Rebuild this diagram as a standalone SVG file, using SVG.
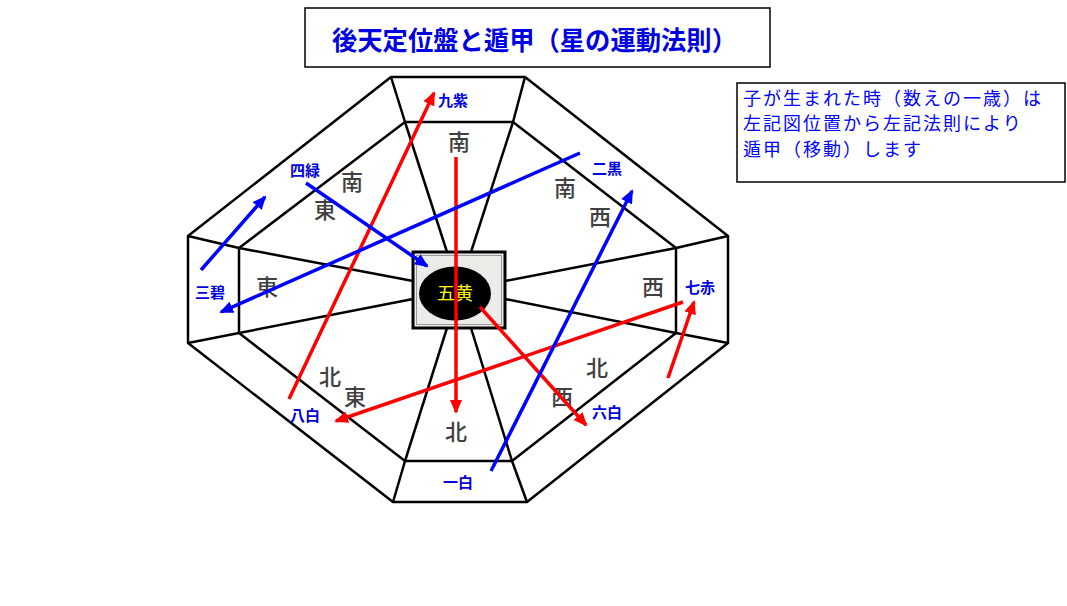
<svg xmlns="http://www.w3.org/2000/svg" width="1067" height="606" viewBox="0 0 1067 606">
<style>
.edge{stroke:#000;stroke-width:2.5;fill:none;stroke-linejoin:round}
.dir{font-family:"Noto Sans CJK JP","Noto Sans CJK SC",sans-serif;font-size:22px;font-weight:500;fill:#404040;text-anchor:middle}
.star{font-family:"Noto Sans CJK JP","Noto Sans CJK SC",sans-serif;font-size:15px;font-weight:bold;fill:#0000e0}
.red{stroke:#ff0000;stroke-width:3.5;fill:none;marker-end:url(#ahR)}
.blue{stroke:#0000ff;stroke-width:3.5;fill:none;marker-end:url(#ahB)}
.note{font-family:"Noto Sans CJK JP","Noto Sans CJK SC",sans-serif;font-size:18px;fill:#0000ff;letter-spacing:2px}
</style>
<defs>
<marker id="ahR" viewBox="0 0 14 12" refX="12" refY="6" markerWidth="14" markerHeight="12" orient="auto" markerUnits="userSpaceOnUse"><path d="M0,0 L14,6 L0,12 z" fill="#ff0000"/></marker>
<marker id="ahB" viewBox="0 0 14 12" refX="12" refY="6" markerWidth="14" markerHeight="12" orient="auto" markerUnits="userSpaceOnUse"><path d="M0,0 L14,6 L0,12 z" fill="#0000ff"/></marker>
</defs>
<rect width="1067" height="606" fill="#fff"/>
<g id="title">
<rect x="305" y="8" width="465" height="59" fill="#fff" stroke="#000" stroke-width="1.5"/>
<text x="534.5" y="50" font-family="Noto Sans CJK JP,Noto Sans CJK SC,sans-serif" font-size="26" font-weight="bold" fill="#0000e0" text-anchor="middle" textLength="405" lengthAdjust="spacingAndGlyphs">後天定位盤と遁甲（星の運動法則）</text>
</g>
<g id="note">
<rect x="737" y="83" width="328" height="99" fill="#fff" stroke="#000" stroke-width="1.5"/>
<text class="note" x="743" y="104.5">子が生まれた時（数えの一歳）は</text>
<text class="note" x="743" y="130">左記図位置から左記法則により</text>
<text class="note" x="743" y="155.5">遁甲（移動）します</text>
</g>
<g id="board">
<polygon points="391,77 525,77 728,236 728,343 527,502 393,502 188,343 188,236" fill="#fff" class="edge"/>
<polygon points="405,122 513,122 676,248 676,333 512,461 405,461 239,333 239,248" fill="#ebebe8" class="edge"/>
<g class="edge">
<line x1="405" y1="122" x2="391" y2="77"/>
<line x1="513" y1="122" x2="525" y2="77"/>
<line x1="676" y1="248" x2="728" y2="236"/>
<line x1="676" y1="333" x2="728" y2="343"/>
<line x1="512" y1="461" x2="527" y2="502"/>
<line x1="405" y1="461" x2="393" y2="502"/>
<line x1="239" y1="333" x2="188" y2="343"/>
<line x1="239" y1="248" x2="188" y2="236"/>
<line x1="405" y1="122" x2="447" y2="252"/>
<line x1="513" y1="122" x2="471" y2="252"/>
<line x1="676" y1="248" x2="505" y2="281"/>
<line x1="676" y1="333" x2="505" y2="299"/>
<line x1="512" y1="461" x2="471" y2="328"/>
<line x1="405" y1="461" x2="447" y2="328"/>
<line x1="239" y1="333" x2="413" y2="299"/>
<line x1="239" y1="248" x2="413" y2="281"/>
</g>
<rect x="413" y="252" width="92" height="76" fill="#ebebe8" stroke="#000" stroke-width="3"/>
<rect x="416.5" y="255.5" width="85" height="69" fill="none" stroke="#999" stroke-width="1"/>
<text class="dir" x="459" y="150">南</text>
<text class="dir" x="352" y="190">南</text>
<text class="dir" x="325" y="218">東</text>
<text class="dir" x="267" y="295">東</text>
<text class="dir" x="565" y="196">南</text>
<text class="dir" x="600" y="225">西</text>
<text class="dir" x="653" y="295">西</text>
<text class="dir" x="597" y="376">北</text>
<text class="dir" x="562" y="405">西</text>
<text class="dir" x="456" y="440">北</text>
<text class="dir" x="330" y="385">北</text>
<text class="dir" x="355" y="405">東</text>
</g>
<g id="n5">
<ellipse cx="455" cy="293.5" rx="36" ry="27" fill="#000"/>
<text x="455" y="300" font-family="Noto Sans CJK JP,Noto Sans CJK SC,sans-serif" font-size="18" fill="#ffff00" text-anchor="middle">五黄</text>
</g>
<g id="n9"><text class="star" x="438" y="105.5">九紫</text></g>
<g id="n4"><text class="star" x="290" y="175.5">四緑</text></g>
<g id="n2"><text class="star" x="592" y="173.5">二黒</text></g>
<g id="n3"><text class="star" x="195" y="297.5">三碧</text></g>
<g id="n7"><text class="star" x="685" y="292.5">七赤</text></g>
<g id="n8"><text class="star" x="290" y="420.5">八白</text></g>
<g id="n6"><text class="star" x="592" y="417.5">六白</text></g>
<g id="n1"><text class="star" x="443" y="487.5">一白</text></g>
<g id="connectors">
<line class="red" x1="480" y1="307" x2="586" y2="425"/>
<line class="red" x1="456" y1="157" x2="456" y2="412"/>
<line class="red" x1="289" y1="399" x2="434" y2="93"/>
<line class="red" x1="683" y1="302" x2="336" y2="421"/>
<line class="red" x1="668" y1="378" x2="694" y2="302"/>
<line class="blue" x1="306" y1="183" x2="427" y2="266"/>
<line class="blue" x1="580" y1="153" x2="221" y2="312"/>
<line class="blue" x1="201" y1="270" x2="265" y2="197"/>
<line class="blue" x1="491" y1="471" x2="632" y2="191"/>
</g>
</svg>
